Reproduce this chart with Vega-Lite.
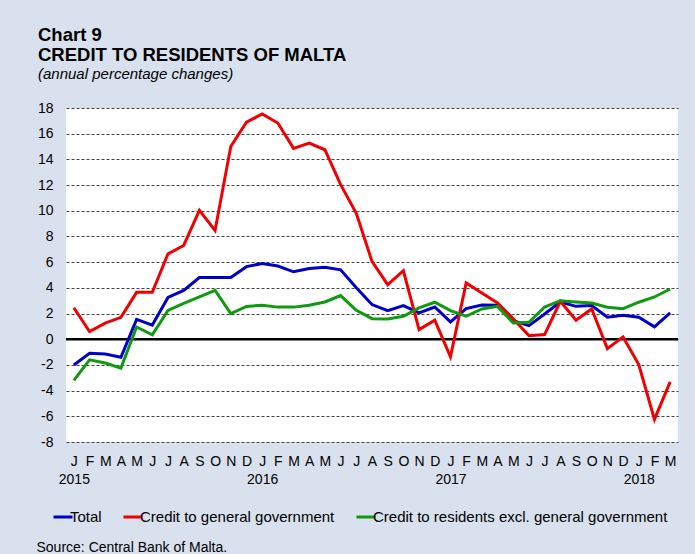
{
  "$schema": "https://vega.github.io/schema/vega-lite/v6.json",
  "width": 612,
  "height": 334,
  "autosize": {"type": "none"},
  "padding": {"left": 66, "top": 108, "right": 17, "bottom": 112},
  "background": "#d9e0ee",
  "config": {"view": {"fill": "white", "stroke": null}, "font": "Liberation Sans"},
  "title": {
    "text": ["Chart 9", "CREDIT TO RESIDENTS OF MALTA"],
    "subtitle": "(annual percentage changes)",
    "anchor": "start",
    "frame": "group",
    "dx": -28,
    "offset": 19,
    "fontSize": 18.5,
    "fontWeight": "bold",
    "lineHeight": 20,
    "color": "black",
    "subtitleFontSize": 15,
    "subtitleFontStyle": "italic",
    "subtitleColor": "black",
    "subtitlePadding": 3
  },
  "layer": [
    {
      "data": {"values": [{"v": 0}]},
      "mark": {"type": "rule", "color": "black", "strokeWidth": 2.5},
      "encoding": {
        "y": {
          "field": "v", "type": "quantitative", "title": null,
          "scale": {"domain": [-8, 18], "nice": false, "zero": false},
          "axis": {
            "values": [-8,-6,-4,-2,0,2,4,6,8,10,12,14,16,18],
            "labelExpr": "datum.value < 0 ? '-' + abs(datum.value) : '' + datum.value",
            "labelOverlap": false,
            "domain": false, "ticks": false, "labelPadding": 13, "labelFontSize": 14, "labelColor": "black",
            "grid": true, "gridDash": [3, 2], "gridColor": "#444", "gridWidth": 1, "gridOpacity": 1
          }
        }
      }
    },
    {
      "data": {"values": [
        {"d":"2015-01","s":"Total","v":-2.0},{"d":"2015-02","s":"Total","v":-1.1},{"d":"2015-03","s":"Total","v":-1.15},{"d":"2015-04","s":"Total","v":-1.4},{"d":"2015-05","s":"Total","v":1.55},{"d":"2015-06","s":"Total","v":1.1},{"d":"2015-07","s":"Total","v":3.25},{"d":"2015-08","s":"Total","v":3.8},{"d":"2015-09","s":"Total","v":4.8},{"d":"2015-10","s":"Total","v":4.8},{"d":"2015-11","s":"Total","v":4.8},{"d":"2015-12","s":"Total","v":5.65},
        {"d":"2016-01","s":"Total","v":5.9},{"d":"2016-02","s":"Total","v":5.7},{"d":"2016-03","s":"Total","v":5.25},{"d":"2016-04","s":"Total","v":5.5},{"d":"2016-05","s":"Total","v":5.6},{"d":"2016-06","s":"Total","v":5.4},{"d":"2016-07","s":"Total","v":4.0},{"d":"2016-08","s":"Total","v":2.7},{"d":"2016-09","s":"Total","v":2.23},{"d":"2016-10","s":"Total","v":2.62},{"d":"2016-11","s":"Total","v":2.05},{"d":"2016-12","s":"Total","v":2.51},
        {"d":"2017-01","s":"Total","v":1.35},{"d":"2017-02","s":"Total","v":2.38},{"d":"2017-03","s":"Total","v":2.67},{"d":"2017-04","s":"Total","v":2.64},{"d":"2017-05","s":"Total","v":1.45},{"d":"2017-06","s":"Total","v":1.06},{"d":"2017-07","s":"Total","v":1.97},{"d":"2017-08","s":"Total","v":2.9},{"d":"2017-09","s":"Total","v":2.56},{"d":"2017-10","s":"Total","v":2.62},{"d":"2017-11","s":"Total","v":1.71},{"d":"2017-12","s":"Total","v":1.87},
        {"d":"2018-01","s":"Total","v":1.71},{"d":"2018-02","s":"Total","v":0.96},{"d":"2018-03","s":"Total","v":2.05},
        {"d":"2015-01","s":"Credit to general government","v":2.45},{"d":"2015-02","s":"Credit to general government","v":0.6},{"d":"2015-03","s":"Credit to general government","v":1.25},{"d":"2015-04","s":"Credit to general government","v":1.7},{"d":"2015-05","s":"Credit to general government","v":3.65},{"d":"2015-06","s":"Credit to general government","v":3.65},{"d":"2015-07","s":"Credit to general government","v":6.65},{"d":"2015-08","s":"Credit to general government","v":7.3},{"d":"2015-09","s":"Credit to general government","v":10.03},{"d":"2015-10","s":"Credit to general government","v":8.47},{"d":"2015-11","s":"Credit to general government","v":15.0},{"d":"2015-12","s":"Credit to general government","v":16.9},
        {"d":"2016-01","s":"Credit to general government","v":17.53},{"d":"2016-02","s":"Credit to general government","v":16.83},{"d":"2016-03","s":"Credit to general government","v":14.86},{"d":"2016-04","s":"Credit to general government","v":15.27},{"d":"2016-05","s":"Credit to general government","v":14.75},{"d":"2016-06","s":"Credit to general government","v":12.03},{"d":"2016-07","s":"Credit to general government","v":9.8},{"d":"2016-08","s":"Credit to general government","v":6.06},{"d":"2016-09","s":"Credit to general government","v":4.25},{"d":"2016-10","s":"Credit to general government","v":5.34},{"d":"2016-11","s":"Credit to general government","v":0.75},{"d":"2016-12","s":"Credit to general government","v":1.48},
        {"d":"2017-01","s":"Credit to general government","v":-1.37},{"d":"2017-02","s":"Credit to general government","v":4.38},{"d":"2017-03","s":"Credit to general government","v":3.6},{"d":"2017-04","s":"Credit to general government","v":2.82},{"d":"2017-05","s":"Credit to general government","v":1.6},{"d":"2017-06","s":"Credit to general government","v":0.28},{"d":"2017-07","s":"Credit to general government","v":0.36},{"d":"2017-08","s":"Credit to general government","v":2.95},{"d":"2017-09","s":"Credit to general government","v":1.48},{"d":"2017-10","s":"Credit to general government","v":2.36},{"d":"2017-11","s":"Credit to general government","v":-0.73},{"d":"2017-12","s":"Credit to general government","v":0.18},
        {"d":"2018-01","s":"Credit to general government","v":-1.97},{"d":"2018-02","s":"Credit to general government","v":-6.24},{"d":"2018-03","s":"Credit to general government","v":-3.32},
        {"d":"2015-01","s":"Credit to residents excl. general government","v":-3.2},{"d":"2015-02","s":"Credit to residents excl. general government","v":-1.6},{"d":"2015-03","s":"Credit to residents excl. general government","v":-1.85},{"d":"2015-04","s":"Credit to residents excl. general government","v":-2.25},{"d":"2015-05","s":"Credit to residents excl. general government","v":0.95},{"d":"2015-06","s":"Credit to residents excl. general government","v":0.35},{"d":"2015-07","s":"Credit to residents excl. general government","v":2.25},{"d":"2015-08","s":"Credit to residents excl. general government","v":2.8},{"d":"2015-09","s":"Credit to residents excl. general government","v":3.3},{"d":"2015-10","s":"Credit to residents excl. general government","v":3.8},{"d":"2015-11","s":"Credit to residents excl. general government","v":2.0},{"d":"2015-12","s":"Credit to residents excl. general government","v":2.55},
        {"d":"2016-01","s":"Credit to residents excl. general government","v":2.65},{"d":"2016-02","s":"Credit to residents excl. general government","v":2.5},{"d":"2016-03","s":"Credit to residents excl. general government","v":2.5},{"d":"2016-04","s":"Credit to residents excl. general government","v":2.65},{"d":"2016-05","s":"Credit to residents excl. general government","v":2.9},{"d":"2016-06","s":"Credit to residents excl. general government","v":3.4},{"d":"2016-07","s":"Credit to residents excl. general government","v":2.25},{"d":"2016-08","s":"Credit to residents excl. general government","v":1.6},{"d":"2016-09","s":"Credit to residents excl. general government","v":1.58},{"d":"2016-10","s":"Credit to residents excl. general government","v":1.79},{"d":"2016-11","s":"Credit to residents excl. general government","v":2.44},{"d":"2016-12","s":"Credit to residents excl. general government","v":2.88},
        {"d":"2017-01","s":"Credit to residents excl. general government","v":2.23},{"d":"2017-02","s":"Credit to residents excl. general government","v":1.79},{"d":"2017-03","s":"Credit to residents excl. general government","v":2.36},{"d":"2017-04","s":"Credit to residents excl. general government","v":2.56},{"d":"2017-05","s":"Credit to residents excl. general government","v":1.27},{"d":"2017-06","s":"Credit to residents excl. general government","v":1.32},{"d":"2017-07","s":"Credit to residents excl. general government","v":2.51},{"d":"2017-08","s":"Credit to residents excl. general government","v":3.0},{"d":"2017-09","s":"Credit to residents excl. general government","v":2.9},{"d":"2017-10","s":"Credit to residents excl. general government","v":2.82},{"d":"2017-11","s":"Credit to residents excl. general government","v":2.49},{"d":"2017-12","s":"Credit to residents excl. general government","v":2.38},
        {"d":"2018-01","s":"Credit to residents excl. general government","v":2.88},{"d":"2018-02","s":"Credit to residents excl. general government","v":3.29},{"d":"2018-03","s":"Credit to residents excl. general government","v":3.91}
      ]},
      "mark": {"type": "line", "strokeWidth": 3},
      "encoding": {
        "x": {
          "field": "d", "type": "ordinal",
          "scale": {"type": "point", "padding": 0.5},
          "axis": {
            "title": "Source: Central Bank of Malta.", "titleAnchor": "start", "titleX": -30, "titleY": 109,
            "titleBaseline": "alphabetic", "titleFontSize": 14, "titleFontWeight": "normal", "titleColor": "black",
            "labelAngle": 0, "domain": false, "ticks": false,
            "labelPadding": 12, "labelFontSize": 14, "labelLineHeight": 18, "labelColor": "black",
            "labelOverlap": false, "labelFlush": false,
            "labelExpr": "slice(datum.value,5)=='01' ? [substring('JFMAMJJASOND', toNumber(slice(datum.value,5))-1, toNumber(slice(datum.value,5))), slice(datum.value,0,4)] : substring('JFMAMJJASOND', toNumber(slice(datum.value,5))-1, toNumber(slice(datum.value,5)))"
          }
        },
        "y": {
          "field": "v", "type": "quantitative", "title": null,
          "scale": {"domain": [-8, 18], "nice": false, "zero": false},
          "axis": {
            "values": [-8,-6,-4,-2,0,2,4,6,8,10,12,14,16,18],
            "labelExpr": "datum.value < 0 ? '-' + abs(datum.value) : '' + datum.value",
            "labelOverlap": false,
            "domain": false, "ticks": false, "labelPadding": 13, "labelFontSize": 14, "labelColor": "black",
            "grid": true, "gridDash": [3, 2], "gridColor": "#444", "gridWidth": 1, "gridOpacity": 1
          }
        },
        "color": {
          "field": "s", "type": "nominal",
          "scale": {
            "domain": ["Total", "Credit to general government", "Credit to residents excl. general government"],
            "range": ["#0000c8", "#f00000", "#0f9a0f"]
          },
          "legend": {
            "orient": "none", "legendX": -14, "legendY": 398, "direction": "horizontal",
            "symbolType": "stroke", "symbolStrokeWidth": 3, "symbolSize": 361,
            "labelFontSize": 15, "labelColor": "black", "labelOffset": -4, "columnPadding": 15, "labelLimit": 400,
            "title": null
          }
        }
      }
    }
  ]
}
